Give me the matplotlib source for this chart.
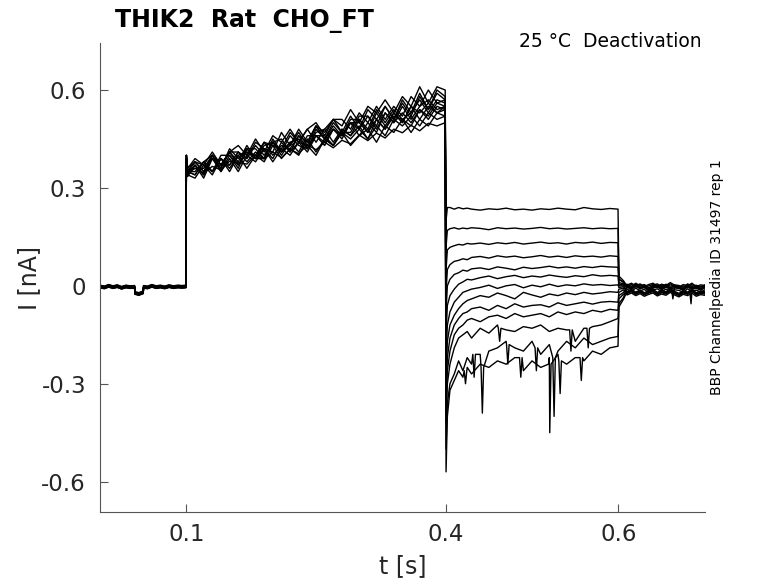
import matplotlib
matplotlib.use("Agg")
import matplotlib.pyplot as plt

# --- time grids of each protocol phase (s) ---
t_base = [0.0, 0.005, 0.01, 0.015, 0.02, 0.025, 0.03, 0.035, 0.04, 0.0405, 0.045, 0.05,
          0.0505, 0.055, 0.06, 0.065, 0.07, 0.075, 0.08, 0.085, 0.09, 0.095, 0.0995]
t_pre = [0.1, 0.1015] + [round(0.11 + 0.01 * i, 3) for i in range(29)] + [0.3995]
t_tail = [0.4005, 0.402, 0.405, 0.41, 0.415, 0.42, 0.425, 0.43, 0.44, 0.45, 0.46, 0.47,
          0.48, 0.49, 0.50, 0.51, 0.52, 0.53, 0.54, 0.55, 0.56, 0.57, 0.58, 0.59, 0.5995]
t_post_early = [0.6005, 0.606]
t_post = [0.61, 0.615, 0.62, 0.625, 0.63, 0.635, 0.64, 0.645, 0.65, 0.655, 0.66, 0.665,
          0.67, 0.675, 0.68, 0.685, 0.69, 0.695, 0.70]

# --- holding baseline (nA), shared shape + per sweep offset ---
base_shape = [-0.002, -0.005, 0.0, -0.004, -0.001, -0.006, -0.002, -0.004, -0.003, -0.022,
              -0.025, -0.02, -0.003, -0.005, 0.0, -0.004, -0.002, -0.005, -0.001, -0.004,
              -0.002, -0.003, -0.002]
base_off = [0.002, -0.003, 0.0, 0.004, -0.002, 0.001, -0.004, 0.003, -0.001, 0.002, -0.003, 0.0, 0.001]

# --- conditioning step 0.1-0.4 s, one row per sweep ---
pre = [
    [0.40, 0.36, 0.38, 0.35, 0.39, 0.36, 0.42, 0.39, 0.42, 0.39, 0.44, 0.43, 0.42, 0.47, 0.44, 0.48,
     0.44, 0.48, 0.51, 0.47, 0.52, 0.48, 0.54, 0.51, 0.55, 0.51, 0.57, 0.53, 0.59, 0.54, 0.60, 0.58],
    [0.39, 0.35, 0.34, 0.38, 0.35, 0.39, 0.35, 0.40, 0.41, 0.39, 0.39, 0.44, 0.41, 0.44, 0.41, 0.46,
     0.46, 0.44, 0.48, 0.45, 0.50, 0.50, 0.47, 0.53, 0.49, 0.53, 0.50, 0.55, 0.53, 0.56, 0.53, 0.55],
    [0.40, 0.345, 0.37, 0.34, 0.40, 0.37, 0.37, 0.41, 0.39, 0.43, 0.40, 0.44, 0.45, 0.41, 0.46, 0.44,
     0.49, 0.45, 0.50, 0.47, 0.47, 0.52, 0.52, 0.49, 0.55, 0.51, 0.56, 0.52, 0.58, 0.54, 0.59, 0.57],
    [0.38, 0.35, 0.35, 0.38, 0.35, 0.40, 0.40, 0.37, 0.41, 0.40, 0.44, 0.40, 0.43, 0.42, 0.46, 0.42,
     0.47, 0.48, 0.44, 0.48, 0.46, 0.51, 0.47, 0.51, 0.48, 0.53, 0.50, 0.55, 0.51, 0.55, 0.53, 0.54],
    [0.40, 0.36, 0.39, 0.37, 0.41, 0.37, 0.41, 0.43, 0.40, 0.45, 0.41, 0.46, 0.44, 0.48, 0.44, 0.48,
     0.50, 0.46, 0.51, 0.49, 0.54, 0.50, 0.55, 0.53, 0.57, 0.53, 0.58, 0.55, 0.61, 0.56, 0.61, 0.60],
    [0.37, 0.34, 0.33, 0.37, 0.34, 0.39, 0.36, 0.40, 0.36, 0.40, 0.38, 0.43, 0.39, 0.42, 0.40, 0.45,
     0.41, 0.45, 0.43, 0.47, 0.45, 0.48, 0.45, 0.49, 0.46, 0.51, 0.49, 0.52, 0.49, 0.53, 0.51, 0.52],
    [0.39, 0.35, 0.38, 0.35, 0.40, 0.36, 0.41, 0.38, 0.43, 0.39, 0.43, 0.44, 0.41, 0.43, 0.47, 0.43,
     0.49, 0.45, 0.48, 0.46, 0.51, 0.51, 0.48, 0.54, 0.50, 0.54, 0.51, 0.53, 0.57, 0.53, 0.57, 0.56],
    [0.38, 0.34, 0.37, 0.34, 0.40, 0.35, 0.40, 0.36, 0.42, 0.39, 0.42, 0.39, 0.44, 0.41, 0.44, 0.41,
     0.46, 0.46, 0.43, 0.48, 0.46, 0.49, 0.45, 0.51, 0.48, 0.52, 0.51, 0.49, 0.54, 0.51, 0.55, 0.54],
    [0.38, 0.345, 0.36, 0.346, 0.366, 0.355, 0.382, 0.378, 0.373, 0.401, 0.389, 0.41, 0.393, 0.418,
     0.405, 0.432, 0.417, 0.44, 0.423, 0.446, 0.435, 0.462, 0.445, 0.468, 0.453, 0.48, 0.469, 0.492,
     0.475, 0.498, 0.49, 0.50],
    [0.40, 0.35, 0.34, 0.38, 0.40, 0.37, 0.41, 0.37, 0.42, 0.42, 0.39, 0.45, 0.41, 0.46, 0.43, 0.42,
     0.48, 0.45, 0.49, 0.46, 0.50, 0.48, 0.52, 0.48, 0.53, 0.50, 0.55, 0.51, 0.55, 0.57, 0.54, 0.55],
    [0.38, 0.35, 0.38, 0.37, 0.35, 0.39, 0.37, 0.41, 0.38, 0.41, 0.39, 0.44, 0.40, 0.44, 0.45, 0.42,
     0.46, 0.43, 0.48, 0.46, 0.50, 0.46, 0.50, 0.47, 0.53, 0.50, 0.53, 0.50, 0.54, 0.52, 0.56, 0.55],
    [0.39, 0.355, 0.36, 0.36, 0.40, 0.37, 0.41, 0.41, 0.39, 0.44, 0.42, 0.41, 0.47, 0.43, 0.48, 0.44,
     0.49, 0.47, 0.51, 0.51, 0.48, 0.53, 0.50, 0.55, 0.51, 0.55, 0.52, 0.58, 0.55, 0.60, 0.56, 0.57],
    [0.37, 0.335, 0.37, 0.33, 0.39, 0.35, 0.39, 0.35, 0.40, 0.38, 0.42, 0.38, 0.42, 0.40, 0.44, 0.43,
     0.40, 0.45, 0.43, 0.47, 0.43, 0.46, 0.48, 0.44, 0.49, 0.47, 0.51, 0.47, 0.51, 0.49, 0.53, 0.52],
]

# --- tail currents 0.4-0.6 s ---
tail = [
    [0.20, 0.24, 0.24, 0.235, 0.24, 0.236, 0.238, 0.235, 0.232, 0.236, 0.234, 0.238, 0.233,
     0.235, 0.232, 0.236, 0.234, 0.238, 0.235, 0.233, 0.24, 0.236, 0.234, 0.237, 0.235],
    [0.12, 0.17, 0.175, 0.178, 0.174, 0.177, 0.175, 0.178, 0.176, 0.172, 0.178, 0.175, 0.177,
     0.174, 0.176, 0.179, 0.175, 0.177, 0.174, 0.176, 0.178, 0.175, 0.177, 0.175, 0.176],
    [0.05, 0.11, 0.118, 0.123, 0.127, 0.125, 0.13, 0.128, 0.131, 0.127, 0.132, 0.129, 0.133,
     0.128, 0.131, 0.134, 0.13, 0.132, 0.128, 0.133, 0.131, 0.134, 0.13, 0.133, 0.132],
    [-0.02, 0.05, 0.065, 0.075, 0.078, 0.083, 0.08, 0.087, 0.09, 0.085, 0.092, 0.088, 0.091,
     0.086, 0.089, 0.093, 0.088, 0.091, 0.087, 0.092, 0.089, 0.091, 0.088, 0.092, 0.09],
    [-0.08, 0.0, 0.02, 0.035, 0.04, 0.048, 0.045, 0.052, 0.055, 0.05, 0.058, 0.054, 0.049,
     0.057, 0.053, 0.056, 0.06, 0.055, 0.058, 0.054, 0.059, 0.056, 0.06, 0.058, 0.057],
    [-0.15, -0.06, -0.03, -0.01, 0.005, 0.012, 0.02, 0.018, 0.025, 0.03, 0.022, 0.028, 0.032,
     0.025, 0.03, 0.027, 0.033, 0.029, 0.026, 0.031, 0.028, 0.034, 0.03, 0.032, 0.03],
    [-0.22, -0.12, -0.08, -0.05, -0.035, -0.02, -0.015, -0.01, -0.005, 0.002, -0.008, 0.0, 0.004,
     -0.006, 0.002, -0.003, 0.005, -0.002, 0.003, 0.0, 0.006, 0.002, 0.004, 0.001, 0.003],
    [-0.28, -0.17, -0.12, -0.09, -0.07, -0.055, -0.045, -0.04, -0.03, -0.035, -0.022, -0.03, -0.04,
     -0.02, -0.028, -0.035, -0.025, -0.03, -0.022, -0.027, -0.02, -0.025, -0.022, -0.018, -0.02],
    [-0.33, -0.22, -0.16, -0.12, -0.1, -0.085, -0.08, -0.07, -0.065, -0.075, -0.06, -0.07, -0.055,
     -0.065, -0.06, -0.058, -0.065, -0.052, -0.06, -0.055, -0.05, -0.056, -0.05, -0.048, -0.05],
    [-0.38, -0.26, -0.2, -0.15, -0.13, -0.12, -0.105, -0.1, -0.11, -0.095, -0.09, -0.1, -0.085,
     -0.095, -0.09, -0.085, -0.095, -0.08, -0.088, -0.08, -0.085, -0.075, -0.08, -0.072, -0.075],
    [-0.42, -0.3, -0.24, -0.19, -0.16, -0.15, -0.14, -0.16, -0.13, -0.145, -0.12, -0.135, -0.14,
     -0.125, -0.13, -0.12, -0.14, -0.13, -0.135, -0.17, -0.13, -0.125, -0.12, -0.11, -0.1],
    [-0.5, -0.36, -0.3, -0.27, -0.23, -0.26, -0.22, -0.24, -0.21, -0.2, -0.19, -0.17, -0.19,
     -0.2, -0.17, -0.21, -0.18, -0.2, -0.17, -0.19, -0.16, -0.18, -0.17, -0.16, -0.155],
    [-0.57, -0.4, -0.32, -0.29, -0.26, -0.28, -0.25, -0.27, -0.24, -0.25, -0.23, -0.24, -0.22,
     -0.26, -0.23, -0.25, -0.22, -0.21, -0.24, -0.22, -0.23, -0.2, -0.21, -0.19, -0.185],
]

# --- back to holding after 0.6 s ---
post_early = [
    [0.03, 0.015], [0.02, 0.012], [0.02, 0.01], [0.01, 0.006], [0.005, 0.003], [0.0, 0.0],
    [-0.005, -0.003], [-0.01, -0.008], [-0.02, -0.012], [-0.03, -0.02], [-0.04, -0.025],
    [-0.055, -0.035], [-0.065, -0.04],
]
post_shape_a = [-0.006, 0.0, -0.008, -0.002, -0.01, -0.004, 0.0, -0.009, -0.003, -0.007,
                0.002, -0.006, -0.012, -0.004, -0.008, 0.0, -0.01, -0.005, -0.007]
post_shape_b = [0.0, -0.007, 0.003, -0.005, -0.001, -0.011, -0.003, 0.001, -0.008, 0.0,
                -0.006, -0.002, -0.004, -0.01, 0.001, -0.007, -0.003, -0.009, -0.002]
post_off = [0.004, -0.01, 0.008, -0.004, -0.018, 0.0, -0.014, 0.005, -0.022, -0.003, -0.016, 0.001, -0.011]

# narrow downward spikes: (time, sweep, peak, level around it)
spikes = [
    (0.4425, 11, -0.39, -0.25), (0.5205, 12, -0.45, -0.24), (0.5255, 11, -0.40, -0.22),
    (0.5325, 12, -0.33, -0.23), (0.4625, 10, -0.17, -0.13), (0.545, 10, -0.20, -0.135),
    (0.565, 10, -0.19, -0.13), (0.487, 12, -0.28, -0.22), (0.505, 11, -0.26, -0.19),
    (0.557, 12, -0.29, -0.22), (0.472, 11, -0.24, -0.18), (0.423, 12, -0.30, -0.26),
    (0.433, 11, -0.28, -0.21), (0.684, 4, -0.055, -0.015), (0.663, 9, -0.04, -0.012),
]

fig = plt.figure(figsize=(7.78, 5.83), dpi=100)
ax = fig.add_axes([0.1285, 0.1218, 0.7775, 0.8044])

for k in range(len(pre)):
    shape = post_shape_a if k % 2 == 0 else post_shape_b
    t = t_base + t_pre + t_tail + t_post_early + t_post
    v = ([b + base_off[k] for b in base_shape] + pre[k] + tail[k] + post_early[k]
         + [p + post_off[k] for p in shape])
    pts = list(zip(t, v))
    for st, sk, peak, lvl in spikes:
        if sk == k:
            pts += [(st - 0.0015, lvl), (st, peak), (st + 0.0015, lvl)]
    pts.sort()
    ax.plot([p[0] for p in pts], [p[1] for p in pts], color="black", lw=1.0)

ax.set_xlim(0, 0.7)
ax.set_ylim(-0.693, 0.744)
ax.set_xticks([0.1, 0.4, 0.6])
ax.set_xticklabels(["0.1", "0.4", "0.6"])
ax.set_yticks([-0.6, -0.3, 0, 0.3, 0.6])
ax.set_yticklabels(["-0.6", "-0.3", "0", "0.3", "0.6"])
ax.tick_params(direction="in", length=6, width=0.8, colors="#555555",
               labelcolor="#262626", labelsize=16.5)
ax.tick_params(axis="x", pad=8)
ax.tick_params(axis="y", pad=10)
for side in ["top", "right"]:
    ax.spines[side].set_visible(False)
for side in ["left", "bottom"]:
    ax.spines[side].set_color("#555555")
    ax.spines[side].set_linewidth(0.8)

ax.set_xlabel("t [s]", fontsize=17, color="#262626", labelpad=6)
ax.set_ylabel("I [nA]", fontsize=17, color="#262626", labelpad=0)

fig.text(0.148, 0.954, "THIK2  Rat  CHO_FT", fontsize=17, fontweight="bold", va="baseline")
fig.text(0.902, 0.919, "25 °C  Deactivation", fontsize=13.5, ha="right", va="baseline")
fig.text(0.921, 0.525, "BBP Channelpedia ID 31497 rep 1", fontsize=10, rotation=90,
         ha="center", va="center")

fig.savefig("out.png", dpi=100)
